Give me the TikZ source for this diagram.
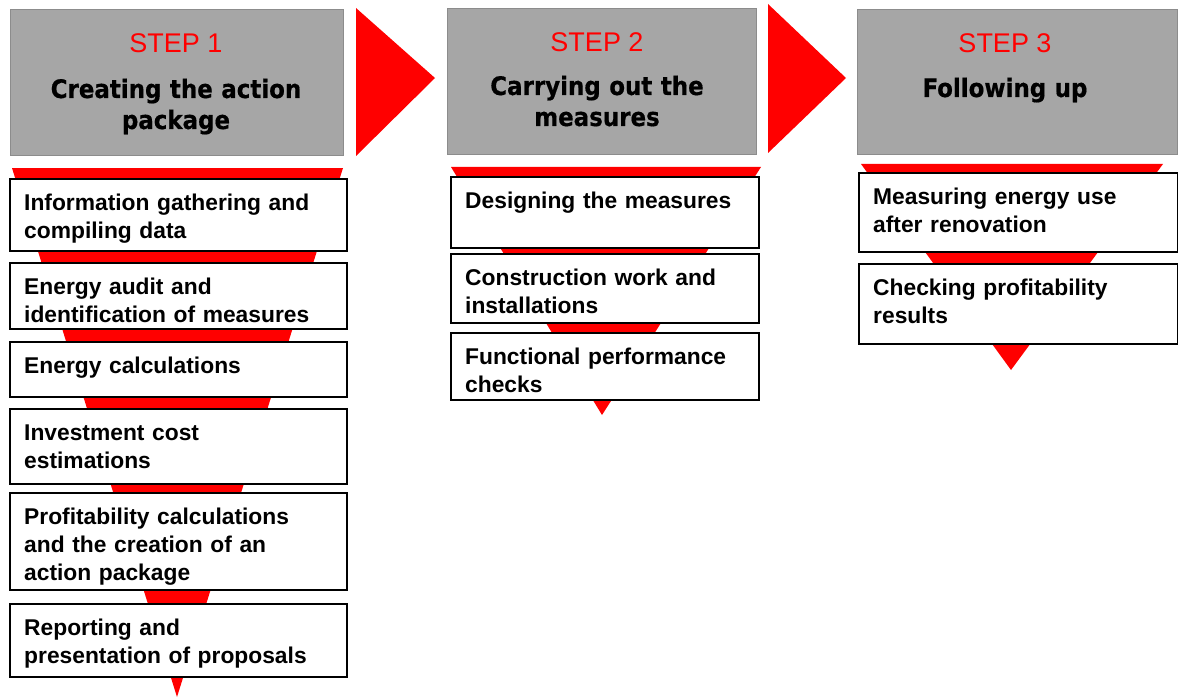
\documentclass[tikz,border=0pt]{standalone}
\usepackage{fontspec}
\setmainfont{Liberation Sans}
\newfontfamily\titlefont{DejaVu Sans Condensed}[FakeBold=0.5]
\newfontfamily\taskfont{Liberation Sans}[WordSpace=2.1]
\definecolor{stepred}{HTML}{FF0000}
\definecolor{headgray}{HTML}{A6A6A6}
\definecolor{headline}{HTML}{8C8C8C}
\begin{document}
\begin{tikzpicture}[x=1pt, y=-1pt, line join=miter,
		head/.style={draw=headline, fill=headgray, line width=1.2pt, anchor=north west, inner sep=0pt},
		steptext/.style={text=stepred, font=\fontsize{27}{30}\selectfont, anchor=base, inner sep=0pt},
		titletext/.style={font=\titlefont\bfseries\fontsize{25.5}{31}\selectfont, text width=320pt, align=center, anchor=base, inner sep=0pt},
		task/.style={draw=black, fill=white, line width=2.4pt, anchor=north west, inner xsep=14pt, inner ysep=14pt, text height=17pt, align=left, font=\taskfont\bfseries\fontsize{22.8}{28}\selectfont}]
		\useasboundingbox (0,0) rectangle (1178,698);
		% headers
		\node[head, minimum width=333pt, minimum height=146pt] (h1) at (10,9) {};
		\node[head, minimum width=309pt, minimum height=146pt] (h2) at (447,8) {};
		\node[head, minimum width=320pt, minimum height=145pt] (h3) at (857,9) {};
		\node[steptext] (s1) at (176,53) {STEP 1};
		\node[steptext] (s2) at (597,52) {STEP 2};
		\node[steptext] (s3) at (1005,53) {STEP 3};
		\node[titletext] (t1) at (176,98) {Creating the action\\package};
		\node[titletext] (t2) at (597,95) {Carrying out the\\measures};
		\node[titletext] (t3) at (1005,97) {Following up};
		\fill[stepred] (356,8)--(435,78)--(356,156)--cycle;
		\fill[stepred] (768,4)--(846,78)--(768,153)--cycle;
		% funnels behind the lists
		\fill[stepred] (12,168)--(343,168)--(177,697)--cycle;
		\fill[stepred] (451,167)--(761,167)--(602,415)--cycle;
		\fill[stepred] (861,164)--(1163,164)--(1011,370)--cycle;
		% step 1
		\begin{scope}[nodes={text width=309pt}]
			\node[task, text depth=27pt] (b1) at (9,178) {Information gathering and\\compiling data};
			\node[task, text depth=21pt] (b2) at (9,262) {Energy audit and\\identification of measures};
			\node[task, text depth=10pt] (b3) at (9,341) {Energy calculations};
			\node[task, text depth=30pt] (b4) at (9,408) {Investment cost\\estimations};
			\node[task, text depth=52pt] (b5) at (9,492) {Profitability calculations\\and the creation of an\\action package};
			\node[task, text depth=28pt] (b6) at (9,603) {Reporting and\\presentation of proposals};
		\end{scope}
		% step 2
		\begin{scope}[nodes={text width=280pt}]
			\node[task, text depth=26pt] (c1) at (450,176) {Designing the measures};
			\node[task, text depth=24pt] (c2) at (450,253) {Construction work and\\installations};
			\node[task, text depth=22pt] (c3) at (450,332) {Functional performance\\checks};
		\end{scope}
		% step 3
		\begin{scope}[nodes={text width=291pt}]
			\node[task, text depth=34pt] (d1) at (858,172) {Measuring energy use\\after renovation};
			\node[task, text depth=35pt] (d2) at (858,263) {Checking profitability\\results};
		\end{scope}
	\end{tikzpicture}
\end{document}
